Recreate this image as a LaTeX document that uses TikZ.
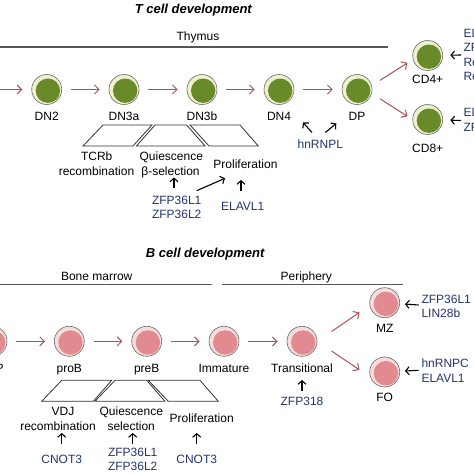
\documentclass[tikz,border=0pt]{standalone}
\usepackage{fontspec}
\setmainfont{Liberation Sans}
\usetikzlibrary{arrows.meta}
\definecolor{ringG}{RGB}{238,241,206}
\definecolor{coreG}{RGB}{104,138,40}
\definecolor{ringP}{RGB}{247,220,220}
\definecolor{coreP}{RGB}{225,138,143}
\definecolor{cellLine}{RGB}{105,105,105}
\definecolor{flow}{RGB}{172,82,82}
\definecolor{regtext}{RGB}{38,52,108}
\definecolor{barcol}{RGB}{85,85,85}
\begin{document}
\begin{tikzpicture}[x=1pt,y=-1pt,
  lbl/.style={font=\fontsize{12}{14.5}\selectfont, inner sep=0pt, anchor=base},
  lblw/.style={lbl, anchor=base west},
  reg/.style={lbl, text=regtext},
  regw/.style={lblw, text=regtext},
  ttl/.style={font=\fontsize{13}{15}\selectfont\bfseries\itshape, inner sep=0pt, anchor=base},
  tcell/.style={circle, minimum size=30pt, inner sep=0pt, draw=cellLine, line width=0.6pt, fill=ringG,
    path picture={\fill[coreG] ([xshift=1.2pt,yshift=-1.2pt]path picture bounding box.center) circle (12.2pt);}},
  bcell/.style={circle, minimum size=30pt, inner sep=0pt, draw=cellLine, line width=0.6pt, fill=ringP,
    path picture={\fill[coreP] ([xshift=1.2pt,yshift=-1.2pt]path picture bounding box.center) circle (12.2pt);}},
  flowarr/.style={draw=flow, line width=1pt, -{Straight Barb[length=4.5pt,width=9pt]}, shorten <=9pt, shorten >=9pt},
  regarr/.style={draw=black, line width=1.1pt, -{Straight Barb[length=3.5pt,width=8pt]}},
  phase/.style={draw=black!80, line width=0.8pt, line join=miter},
  region/.style={draw=barcol, line width=1.6pt},
]
\useasboundingbox (0,0) rectangle (474,474);
\clip (0,0) rectangle (474,474);

% ---------------- T cell development ----------------
\node[ttl] (ttlT) at (193.3,13.3) {T cell development};
\node[lbl] (thy) at (198,40) {Thymus};
\draw[region] (0,46.7) -- (387.7,46.7);

\coordinate (preT) at (-20,89.5);
\node[tcell] (DN2) at (46.7,89.5) {};
\node[tcell] (DN3a) at (124,89.5) {};
\node[tcell] (DN3b) at (202,89.5) {};
\node[tcell] (DN4) at (279,89.5) {};
\node[tcell] (DP) at (357,89.5) {};
\node[tcell] (CD4) at (427.7,55.5) {};
\node[tcell] (CD8) at (427.7,119.5) {};

\node[lbl] (lDN2) at (46.7,120.7) {DN2};
\node[lbl] (lDN3a) at (124,120.7) {DN3a};
\node[lbl] (lDN3b) at (202,120.7) {DN3b};
\node[lbl] (lDN4) at (279,120.2) {DN4};
\node[lbl] (lDP) at (357,120.2) {DP};
\node[lbl] (lCD4) at (427.7,83.3) {CD4+};
\node[lbl] (lCD8) at (427.7,152.3) {CD8+};

\draw[flowarr, shorten <=0pt] (preT) -- (DN2);
\draw[flowarr] (DN2) -- (DN3a);
\draw[flowarr] (DN3a) -- (DN3b);
\draw[flowarr] (DN3b) -- (DN4);
\draw[flowarr] (DN4) -- (DP);
\draw[flowarr, shorten <=9.6pt, shorten >=6.4pt] (DP.15) -- (CD4.195);
\draw[flowarr, shorten <=9.7pt, shorten >=5.9pt] (DP.-15) -- (CD8.180);

% regulators of CD4+/CD8+
\node[regw] (r41) at (463.3,37) {ELAVL1};
\node[regw] (r42) at (463.3,51.7) {ZFP36L1};
\node[regw] (r43) at (463.3,66.2) {Regnase-1};
\node[regw] (r44) at (463.3,80.7) {Regnase-3};
\node[regw] (r81) at (463.3,116.5) {ELAVL1};
\node[regw] (r82) at (463.3,131) {ZFP36L1};
\coordinate (c4a) at (461,55);
\coordinate (c8a) at (461,120.5);
\draw[regarr, shorten >=7.3pt] (c4a) -- (CD4);
\draw[regarr, shorten >=7.3pt] (c8a) -- (CD8);

% phases
\draw[phase] (103,125) -- (152,125) -- (133,146) -- (83,146) -- cycle;
\draw[phase] (155,125) -- (186.7,125) -- (205,146) -- (136.5,146) -- cycle;
\draw[phase] (190,125) -- (240,125) -- (258.3,146) -- (209,146) -- cycle;

\node[lbl] (tcr1) at (96.7,160) {TCRb};
\node[lbl] (tcr2) at (96.5,175) {recombination};
\node[lbl] (qt1) at (171.3,160) {Quiescence};
\node[lbl] (qt2) at (170.5,175) {β-selection};
\node[lbl] (prT) at (245.5,168.3) {Proliferation};

\node[reg] (zfT1) at (176.7,204) {ZFP36L1};
\node[reg] (zfT2) at (176.7,218.3) {ZFP36L2};
\node[reg] (elT) at (242.7,210) {ELAVL1};
\node[reg] (hnL) at (320.3,148.3) {hnRNPL};

\coordinate (aq1) at (174,188);
\coordinate (aq2) at (174,177.5);
\draw[regarr] (aq1) -- (aq2);
\coordinate (ap1) at (196.7,190.7);
\coordinate (ap2) at (225,178.3);
\draw[regarr] (ap1) -- (ap2);
\coordinate (ae1) at (241,190.5);
\coordinate (ae2) at (241,180);
\draw[regarr] (ae1) -- (ae2);
\coordinate (ah1) at (312,132.5);
\coordinate (ah2) at (303,122.5);
\draw[regarr] (ah1) -- (ah2);
\coordinate (ah3) at (325.3,132.5);
\coordinate (ah4) at (336.3,123.5);
\draw[regarr] (ah3) -- (ah4);

% ---------------- B cell development ----------------
\node[ttl] (ttlB) at (205.2,257.5) {B cell development};
\node[lbl] (bm) at (96.7,280) {Bone marrow};
\node[lbl] (per) at (306.3,280) {Periphery};
\draw[region] (0,284.5) -- (211.7,284.5);
\draw[region] (221.7,284.5) -- (403,284.5);

\node[bcell] (CLP) at (-8,341.3) {};
\node[bcell] (proB) at (69.3,341.3) {};
\node[bcell] (preB) at (146.7,341.3) {};
\node[bcell] (Imm) at (224,341.3) {};
\node[bcell] (Tra) at (302,341.3) {};
\node[bcell] (MZ) at (384.7,302.7) {};
\node[bcell] (FO) at (384.7,372) {};

\node[lbl] (lCLP) at (-8,372.5) {CLP};
\node[lbl] (lproB) at (69.3,372.5) {proB};
\node[lbl] (lpreB) at (146.7,372.5) {preB};
\node[lbl] (lImm) at (224,372.5) {Immature};
\node[lbl] (lTra) at (302,372.5) {Transitional};
\node[lbl] (lMZ) at (384.7,332) {MZ};
\node[lbl] (lFO) at (384.7,401.3) {FO};

\draw[flowarr] (CLP) -- (proB);
\draw[flowarr] (proB) -- (preB);
\draw[flowarr] (preB) -- (Imm);
\draw[flowarr] (Imm) -- (Tra);
\draw[flowarr, shorten <=17.3pt, shorten >=12.3pt] (Tra.east) -- (MZ.190);
\draw[flowarr, shorten <=17.2pt, shorten >=13.1pt] (Tra.east) -- (FO.200);

\node[regw] (mz1) at (421.3,303) {ZFP36L1};
\node[regw] (mz2) at (421.3,317) {LIN28b};
\node[regw] (fo1) at (421.3,367.7) {hnRNPC};
\node[regw] (fo2) at (421.3,382) {ELAVL1};
\coordinate (mza) at (418.7,305);
\coordinate (foa) at (418.7,370.3);
\draw[regarr, shorten >=5pt] (mza) -- (MZ);
\draw[regarr, shorten >=5pt] (foa) -- (FO);

\node[reg] (z318) at (302,405.3) {ZFP318};
\coordinate (at1) at (302,390.5);
\coordinate (at2) at (302,380);
\draw[regarr] (at1) -- (at2);

% phases
\draw[phase] (61.7,380.3) -- (111.7,380.3) -- (93.3,401.3) -- (41.7,401.3) -- cycle;
\draw[phase] (115,380.3) -- (146.7,380.3) -- (165,401.3) -- (95,401.3) -- cycle;
\draw[phase] (148.3,380.3) -- (200,380.3) -- (218.3,401.3) -- (168.3,401.3) -- cycle;

\node[lbl] (vdj1) at (63,415.3) {VDJ};
\node[lbl] (vdj2) at (58,430.3) {recombination};
\node[lbl] (qb1) at (131.3,415.3) {Quiescence};
\node[lbl] (qb2) at (131.2,430.3) {selection};
\node[lbl] (prB) at (201.7,422) {Proliferation};

\coordinate (b11) at (61.7,443.5);
\coordinate (b12) at (61.7,433);
\draw[regarr] (b11) -- (b12);
\coordinate (b21) at (132.7,443.5);
\coordinate (b22) at (132.7,433);
\draw[regarr] (b21) -- (b22);
\coordinate (b31) at (196.7,443.5);
\coordinate (b32) at (196.7,433);
\draw[regarr] (b31) -- (b32);

\node[reg] (cn1) at (61.7,463) {CNOT3};
\node[reg] (zfB1) at (132.7,456.3) {ZFP36L1};
\node[reg] (zfB2) at (132.7,470.3) {ZFP36L2};
\node[reg] (cn2) at (196.7,463) {CNOT3};
\end{tikzpicture}
\end{document}
